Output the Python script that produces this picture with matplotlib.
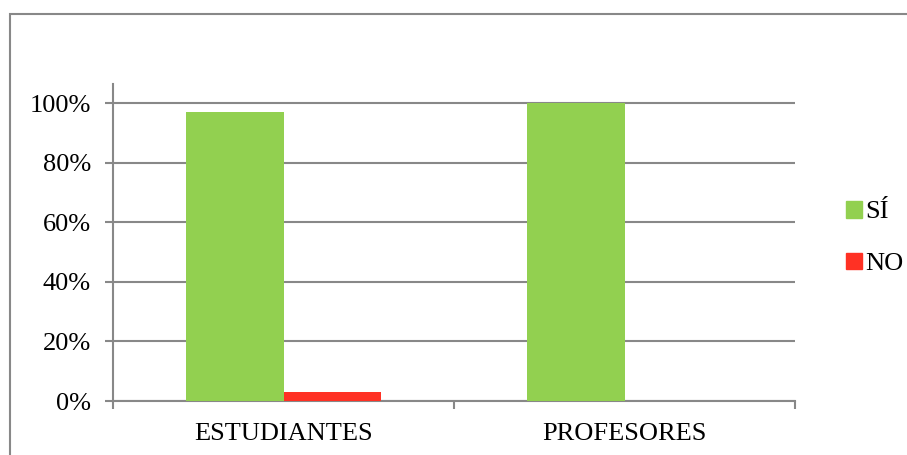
import matplotlib.pyplot as plt
from matplotlib.patches import Rectangle, Patch
from matplotlib.ticker import PercentFormatter
import numpy as np

CATEGORIES = ["ESTUDIANTES", "PROFESORES"]
SI = [0.97, 1.00]
NO = [0.03, 0.00]
SERIES = ["SÍ", "NO"]
COLORS = ["#92D050", "#FF3124"]

plt.rcParams["font.family"] = ["Liberation Serif", "DejaVu Serif"]
plt.rcParams["font.size"] = 19

fig = plt.figure(figsize=(9.07, 4.55), dpi=100)
# frame around the chart area
fig.patches.append(Rectangle((10 / 907, -0.1), 1.2, 0.1 + 1 - 14 / 455, transform=fig.transFigure,
                             fill=False, edgecolor="#888888", linewidth=1.5))

ax = fig.add_axes([113 / 907, 1 - 401 / 455, (795 - 113) / 907, (401 - 84) / 455])
x = np.arange(len(CATEGORIES))
w = 0.285
ax.bar(x - w / 2, SI, w, color=COLORS[0], zorder=3)
ax.bar(x + w / 2, NO, w, color=COLORS[1], zorder=3)

ax.set_xlim(-0.5, 1.5)
ax.set_ylim(0, 1.064)
ax.set_yticks(np.arange(0, 1.01, 0.2))
ax.yaxis.set_major_formatter(PercentFormatter(1.0, decimals=0))
ax.yaxis.grid(True, color="#888888", linewidth=1.5, zorder=0)

ax.set_xticks(x)
ax.set_xticklabels(CATEGORIES)
ax.set_xticks([-0.5, 0.5, 1.5], minor=True)
ax.tick_params(axis="x", which="major", length=0, pad=16)
ax.tick_params(axis="x", which="minor", length=6, width=1.5, color="#888888")
ax.tick_params(axis="y", length=6, width=1.5, color="#888888", pad=10)

for side in ["top", "right"]:
    ax.spines[side].set_visible(False)
for side in ["left", "bottom"]:
    ax.spines[side].set_color("#888888")
    ax.spines[side].set_linewidth(1.5)

handles = [Patch(color=c, label=s) for c, s in zip(COLORS, SERIES)]
fig.legend(handles=handles, loc="center left", bbox_to_anchor=(822 / 907, 1 - 238 / 455),
           frameon=False, handlelength=0.6, handleheight=0.6, handletextpad=0.15,
           labelspacing=1.1, fontsize=19)

fig.savefig("out.png", dpi=100)
